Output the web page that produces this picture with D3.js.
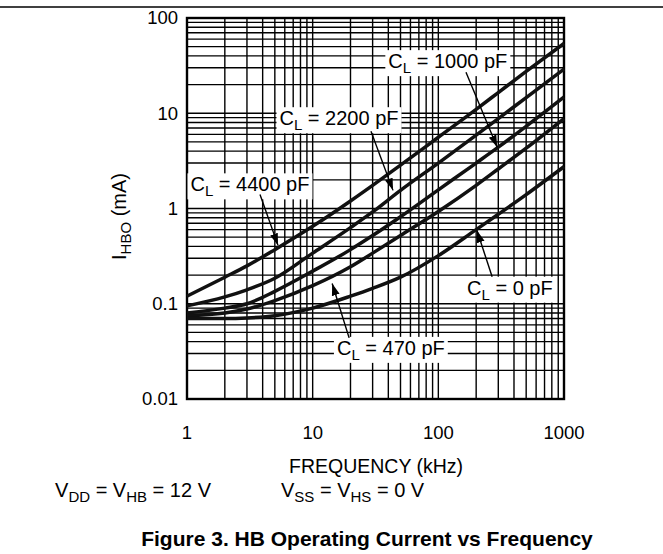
<!DOCTYPE html>
<html>
<head>
<meta charset="utf-8">
<script src="https://cdn.jsdelivr.net/npm/d3@7"></script>
<style>
  body { margin: 0; background: #fff; }
  svg { display: block; font-family: "Liberation Sans", Arial, sans-serif; }
</style>
</head>
<body>
<div id="chartContainer"></div>
<script>
// frequency points (kHz) and I_HBO (mA)
const freqs  = [1, 2, 3, 5, 10, 20, 30, 50, 100, 200, 300, 500, 1000];
const cl4400 = [0.12, 0.19, 0.25, 0.37, 0.65, 1.2, 1.75, 2.85, 5.6, 11, 16.5, 27.5, 54];
const cl2200 = [0.095, 0.118, 0.14, 0.185, 0.34, 0.63, 0.92, 1.55, 3.0, 5.9, 8.8, 14.6, 29];
const cl1000 = [0.08, 0.09, 0.1, 0.135, 0.22, 0.37, 0.52, 0.82, 1.57, 3.0, 4.4, 7.3, 14.8];
const cl470  = [0.075, 0.08, 0.088, 0.108, 0.155, 0.245, 0.34, 0.52, 0.93, 1.75, 2.6, 4.3, 8.8];
const cl0    = [0.07, 0.07, 0.071, 0.075, 0.09, 0.12, 0.145, 0.19, 0.32, 0.6, 0.87, 1.4, 2.75];

const xTicks = [1, 10, 100, 1000];
const yTicks = [0.01, 0.1, 1, 10, 100];

// annotation text and anchor points in data units: label centre, arrow start, arrow tip
const noteNames = ["1000 pF", "2200 pF", "4400 pF", "470 pF", "0 pF"];
const noteLabel = [[119, 34.4], [16.2, 8.66], [3.17, 1.75], [41.9, 0.0336], [371, 0.144]];
const noteFrom  = [[166, 27.0], [29.1, 6.46], [3.81, 1.40], [19.5, 0.0438], [268, 0.192]];
const noteTo    = [[294, 4.4], [43.6, 1.55], [5.3, 0.41], [14.3, 0.163], [203, 0.587]];

const width = 663, height = 554;
const marginTop = 18, marginLeft = 187, plotRight = 564, plotBottom = 399;

const x = d3.scaleLog().domain([1, 1000]).range([marginLeft, plotRight]);
const y = d3.scaleLog().domain([0.01, 100]).range([plotBottom, marginTop]);

const svg = d3.create("svg")
  .attr("width", width)
  .attr("height", height)
  .attr("viewBox", [0, 0, width, height]);
document.getElementById("chartContainer").appendChild(svg.node());

svg.append("defs").append("marker")
  .attr("id", "head")
  .attr("viewBox", "0 0 12 10")
  .attr("refX", 12).attr("refY", 5)
  .attr("markerWidth", 12).attr("markerHeight", 10)
  .attr("markerUnits", "userSpaceOnUse")
  .attr("orient", "auto")
  .append("path").attr("d", "M0,1L12,5L0,9Z").attr("fill", "#000");

// header rule
svg.append("line")
  .attr("x1", 0).attr("x2", width).attr("y1", 7).attr("y2", 7)
  .attr("stroke", "#000").attr("stroke-width", 1.5);

// log grid
const xGrid = [];
[1, 10, 100].forEach(d => { for (let k = 1; k < 10; k++) xGrid.push(d * k); });
xGrid.push(1000);
const yGrid = [];
[0.01, 0.1, 1, 10].forEach(d => { for (let k = 1; k < 10; k++) yGrid.push(d * k); });
yGrid.push(100);

svg.append("g")
  .attr("stroke", "#000").attr("stroke-width", 1.4)
  .selectAll()
  .data(xGrid)
  .join("line")
  .attr("x1", d => x(d)).attr("x2", d => x(d))
  .attr("y1", marginTop).attr("y2", plotBottom);

svg.append("g")
  .attr("stroke", "#000").attr("stroke-width", 1.4)
  .selectAll()
  .data(yGrid)
  .join("line")
  .attr("x1", marginLeft).attr("x2", plotRight)
  .attr("y1", d => y(d)).attr("y2", d => y(d));

svg.append("rect")
  .attr("x", marginLeft).attr("y", marginTop)
  .attr("width", plotRight - marginLeft).attr("height", plotBottom - marginTop)
  .attr("fill", "none").attr("stroke", "#000").attr("stroke-width", 2.4);

// curves
const line = d3.line()
  .x((d, i) => x(freqs[i]))
  .y(d => y(d))
  .curve(d3.curveMonotoneX);

svg.append("g")
  .attr("fill", "none").attr("stroke", "#111").attr("stroke-width", 3.5)
  .attr("stroke-linejoin", "round")
  .selectAll()
  .data([cl4400, cl2200, cl1000, cl470, cl0])
  .join("path")
  .attr("d", line);

// axes labels
svg.append("g")
  .attr("font-size", 18.5).attr("text-anchor", "end")
  .selectAll()
  .data(yTicks)
  .join("text")
  .attr("x", 178).attr("y", d => y(d)).attr("dy", "0.35em")
  .text(d => d3.format("~g")(d));

svg.append("g")
  .attr("font-size", 18.5).attr("text-anchor", "middle")
  .selectAll()
  .data(xTicks)
  .join("text")
  .attr("x", d => x(d)).attr("y", 439)
  .text(d => d);

svg.append("text")
  .attr("text-anchor", "middle").attr("font-size", 19.5)
  .attr("x", 376).attr("y", 473)
  .text("FREQUENCY (kHz)");

const yl = svg.append("text")
  .attr("text-anchor", "middle").attr("font-size", 20)
  .attr("transform", `translate(126,${(marginTop + plotBottom) / 2 + 8}) rotate(-90)`);
yl.append("tspan").text("I");
yl.append("tspan").attr("font-size", 15).attr("dy", 5).text("HBO");
yl.append("tspan").attr("dy", -5).text(" (mA)");

// annotations
const notes = svg.append("g").attr("font-size", 20);
noteNames.forEach((name, i) => {
  svg.append("line")
    .attr("x1", x(noteFrom[i][0])).attr("y1", y(noteFrom[i][1]))
    .attr("x2", x(noteTo[i][0])).attr("y2", y(noteTo[i][1]))
    .attr("stroke", "#000").attr("stroke-width", 1.4)
    .attr("marker-end", "url(#head)");
  const g = notes.append("g");
  const t = g.append("text")
    .attr("x", x(noteLabel[i][0])).attr("y", y(noteLabel[i][1]) + 6)
    .attr("text-anchor", "middle");
  t.append("tspan").text("C");
  t.append("tspan").attr("font-size", 15).attr("dy", 5).text("L");
  t.append("tspan").attr("dy", -5).text(" = " + name);
  const bb = t.node().getBBox();
  g.insert("rect", "text")
    .attr("x", bb.x - 3).attr("y", bb.y)
    .attr("width", bb.width + 6).attr("height", bb.height)
    .attr("fill", "#fff");
});

// conditions and caption
const c1 = svg.append("text").attr("font-size", 20)
  .attr("text-anchor", "end").attr("x", 211).attr("y", 497);
c1.append("tspan").text("V");
c1.append("tspan").attr("font-size", 15).attr("dy", 5).text("DD");
c1.append("tspan").attr("dy", -5).text(" = V");
c1.append("tspan").attr("font-size", 15).attr("dy", 5).text("HB");
c1.append("tspan").attr("dy", -5).text(" = 12 V");

const c2 = svg.append("text").attr("font-size", 20).attr("x", 281).attr("y", 497);
c2.append("tspan").text("V");
c2.append("tspan").attr("font-size", 15).attr("dy", 5).text("SS");
c2.append("tspan").attr("dy", -5).text(" = V");
c2.append("tspan").attr("font-size", 15).attr("dy", 5).text("HS");
c2.append("tspan").attr("dy", -5).text(" = 0 V");

svg.append("text")
  .attr("text-anchor", "middle").attr("font-size", 21).attr("font-weight", "bold")
  .attr("x", 367).attr("y", 546)
  .text("Figure 3. HB Operating Current vs Frequency");
</script>
</body>
</html>
